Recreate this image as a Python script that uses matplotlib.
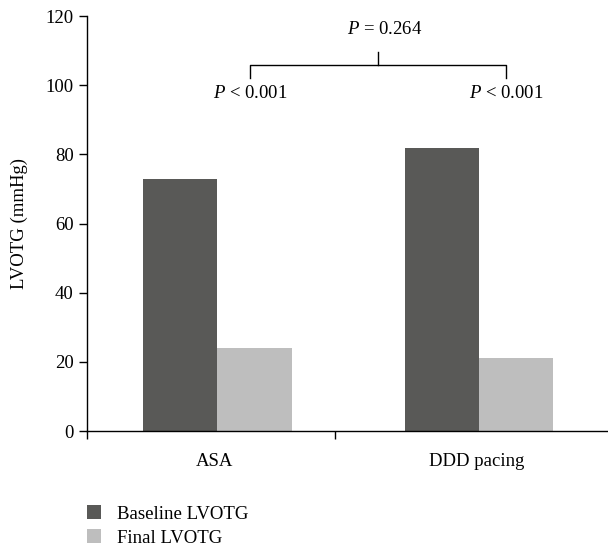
import matplotlib.pyplot as plt
from matplotlib.patches import Patch

plt.rcParams['font.family'] = ['Liberation Serif', 'DejaVu Serif']
plt.rcParams['mathtext.fontset'] = 'custom'
plt.rcParams['mathtext.it'] = 'Liberation Serif:italic'
plt.rcParams['mathtext.rm'] = 'Liberation Serif'

groups = ['ASA', 'DDD pacing']
baseline = [73, 82]
final = [24, 21]
series_names = ['Baseline LVOTG', 'Final LVOTG']
colors = ['#595957', '#bebebe']
yticks = [0, 20, 40, 60, 80, 100, 120]

fs = 13.5
fig = plt.figure(figsize=(6.08, 5.48), dpi=100)
ax = fig.add_axes([0.143, 0.2135, 0.857, 0.757])

centers = [0.525, 1.58]
w = 0.3
ax.bar([c - w / 2 for c in centers], baseline, w, color=colors[0], edgecolor='none')
ax.bar([c + w / 2 for c in centers], final, w, color=colors[1], edgecolor='none')

ax.set_xlim(0, 2.1)
ax.set_ylim(0, 120)
ax.set_yticks(yticks)
ax.set_xticks([0, 1])
ax.set_xticklabels([])
for c, g in zip(centers, groups):
    ax.text(c - 0.01, -8.7, g, ha='center', va='center', fontsize=fs)

ax.spines['top'].set_visible(False)
ax.spines['right'].set_visible(False)
ax.spines['left'].set_linewidth(1)
ax.spines['bottom'].set_linewidth(1)
ax.tick_params(axis='both', direction='out', length=6, width=1, labelsize=fs)
ax.set_ylabel('LVOTG (mmHg)', fontsize=fs, labelpad=13)

# significance bracket
ax.plot([0.657, 0.657, 1.69, 1.69], [102, 105.8, 105.8, 102], color='black', lw=1, clip_on=False)
ax.plot([1.173, 1.173], [105.8, 109.6], color='black', lw=1, clip_on=False)
ax.text(1.2, 116, r'$P$ = 0.264', ha='center', va='center', fontsize=fs)
ax.text(0.657, 97.7, r'$P$ < 0.001', ha='center', va='center', fontsize=fs)
ax.text(1.69, 97.7, r'$P$ < 0.001', ha='center', va='center', fontsize=fs)

handles = [Patch(facecolor=c, edgecolor='none') for c in colors]
fig.legend(handles, series_names, loc='upper left', bbox_to_anchor=(0.143, 0.078),
           frameon=False, fontsize=fs, handlelength=0.75, handleheight=0.75,
           handletextpad=0.85, labelspacing=0.35, borderaxespad=0, borderpad=0)

fig.savefig('out.png', dpi=100)
